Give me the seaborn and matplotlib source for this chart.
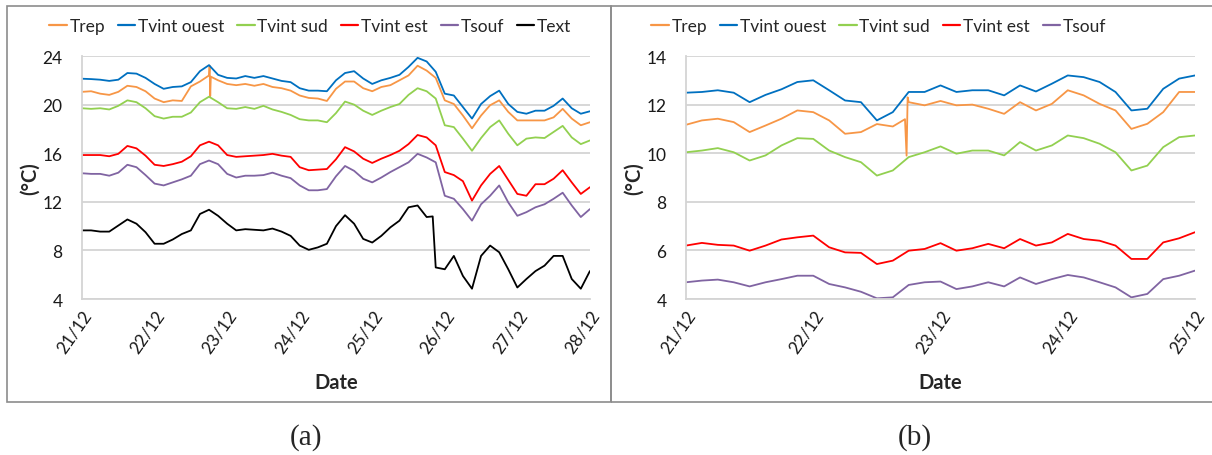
import pandas as pd
import seaborn as sns
import matplotlib.pyplot as plt
from matplotlib.lines import Line2D
from matplotlib.patches import Rectangle
from matplotlib.ticker import MultipleLocator

# ---- panel (a): 21/12 -> 28/12, one reading every 3 h ----
hours_a = list(range(0, 169, 3))
trep_a = [21.05, 21.1, 20.9, 20.8, 21.05, 21.55, 21.45, 21.1, 20.5, 20.2, 20.35, 20.3, 21.5, 21.9, 22.4,
          22.0, 21.7, 21.6, 21.7, 21.55, 21.7, 21.45, 21.35, 21.15, 20.75, 20.55, 20.5, 20.3, 21.3,
          21.9, 21.9, 21.35, 21.1, 21.45, 21.6, 22.0, 22.4, 23.2, 22.8, 22.2, 20.35, 20.05, 19.1,
          18.05, 19.1, 19.95, 20.35, 19.4, 18.7, 18.7, 18.7, 18.7, 18.95, 19.65, 18.85, 18.3, 18.55]
ouest_a = [22.13, 22.1, 22.05, 21.95, 22.05, 22.6, 22.55, 22.2, 21.7, 21.3, 21.45, 21.5, 21.85, 22.75,
           23.25, 22.45, 22.2, 22.15, 22.35, 22.2, 22.35, 22.15, 21.95, 21.85, 21.35, 21.15, 21.15, 21.1,
           22.0, 22.6, 22.75, 22.15, 21.7, 22.0, 22.2, 22.45, 23.1, 23.85, 23.55, 22.7, 20.9, 20.75,
           19.8, 18.85, 20.05, 20.7, 21.15, 20.05, 19.4, 19.25, 19.5, 19.5, 19.9, 20.5, 19.7, 19.25, 19.45]
sud_a = [19.7, 19.65, 19.7, 19.6, 19.9, 20.35, 20.2, 19.7, 19.05, 18.85, 19.0, 19.0, 19.35, 20.2, 20.65,
         20.2, 19.7, 19.65, 19.8, 19.65, 19.9, 19.6, 19.4, 19.15, 18.8, 18.7, 18.7, 18.55, 19.3,
         20.25, 20.0, 19.5, 19.15, 19.5, 19.8, 20.05, 20.8, 21.35, 21.1, 20.5, 18.3, 18.15, 17.2,
         16.2, 17.25, 18.15, 18.7, 17.6, 16.65, 17.2, 17.3, 17.25, 17.75, 18.25, 17.3, 16.75, 17.05]
est_a = [15.85, 15.85, 15.85, 15.75, 15.95, 16.6, 16.4, 15.8, 15.05, 14.95, 15.1, 15.3, 15.75, 16.65,
         16.95, 16.65, 15.85, 15.7, 15.75, 15.8, 15.85, 15.95, 15.8, 15.7, 14.85, 14.6, 14.65, 14.7, 15.5,
         16.5, 16.15, 15.55, 15.2, 15.55, 15.85, 16.2, 16.75, 17.5, 17.3, 16.65, 14.45, 14.2, 13.7,
         12.1, 13.35, 14.3, 14.95, 13.8, 12.65, 12.5, 13.45, 13.45, 13.9, 14.6, 13.6, 12.65, 13.2]
souf_a = [14.35, 14.3, 14.3, 14.15, 14.4, 15.05, 14.85, 14.2, 13.5, 13.35, 13.6, 13.85, 14.15, 15.1,
          15.4, 15.1, 14.3, 14.0, 14.15, 14.15, 14.2, 14.4, 14.15, 13.95, 13.35, 12.95, 12.95, 13.05, 14.1,
          14.95, 14.55, 13.9, 13.6, 14.0, 14.45, 14.85, 15.25, 15.95, 15.65, 15.25, 12.5, 12.25, 11.4,
          10.45, 11.8, 12.5, 13.35, 11.95, 10.85, 11.15, 11.55, 11.8, 12.25, 12.75, 11.7, 10.75, 11.4]
text_a = [9.65, 9.65, 9.55, 9.55, 10.05, 10.55, 10.2, 9.5, 8.55, 8.55, 8.9, 9.35, 9.65, 11.0, 11.35,
          10.85, 10.2, 9.65, 9.75, 9.7, 9.65, 9.8, 9.55, 9.2, 8.4, 8.05, 8.25, 8.55, 10.0,
          10.9, 10.2, 8.95, 8.65, 9.2, 9.9, 10.45, 11.55, 11.7, 10.75, 6.6, 6.45, 7.55, 5.9,
          4.85, 7.55, 8.4, 7.85, 6.45, 4.95, 5.65, 6.3, 6.75, 7.55, 7.55, 5.65, 4.85, 6.3]
# short events between the 3 h readings
trep_a_spike_h = [42.2, 42.4, 42.6]
trep_a_spike = [23.2, 20.7, 22.3]
text_a_drop_h = [116.0]
text_a_drop = [10.8]
days_a = ['21/12', '22/12', '23/12', '24/12', '25/12', '26/12', '27/12', '28/12']

# ---- panel (b): 21/12 -> 25/12, one reading every 3 h ----
hours_b = list(range(0, 97, 3))
trep_b = [11.17, 11.35, 11.42, 11.28, 10.87, 11.14, 11.42, 11.76, 11.69, 11.35, 10.8, 10.87, 11.2,
          11.1, 12.1, 11.97, 12.15, 11.97, 12.0, 11.83, 11.62, 12.1, 11.76, 12.03, 12.59, 12.38, 12.03,
          11.76, 11.0, 11.21, 11.69, 12.52, 12.52]
ouest_b = [12.49, 12.52, 12.59, 12.49, 12.1, 12.4, 12.63, 12.93, 13.0, 12.59, 12.17, 12.1, 11.35,
           11.69, 12.52, 12.52, 12.79, 12.52, 12.59, 12.59, 12.38, 12.79, 12.54, 12.86, 13.2, 13.13,
           12.93, 12.52, 11.76, 11.83, 12.65, 13.07, 13.2]
sud_b = [10.04, 10.11, 10.21, 10.04, 9.7, 9.91, 10.32, 10.62, 10.59, 10.11, 9.84, 9.63, 9.08, 9.29,
         9.84, 10.04, 10.28, 9.98, 10.11, 10.11, 9.91, 10.46, 10.11, 10.32, 10.73, 10.62, 10.39, 10.04,
         9.29, 9.49, 10.25, 10.66, 10.73]
est_b = [6.2, 6.31, 6.23, 6.2, 5.99, 6.2, 6.45, 6.54, 6.61, 6.13, 5.92, 5.9, 5.44, 5.58, 5.99, 6.06,
         6.3, 5.99, 6.09, 6.27, 6.09, 6.47, 6.2, 6.33, 6.68, 6.47, 6.4, 6.2, 5.65, 5.65, 6.33, 6.5, 6.75]
souf_b = [4.69, 4.76, 4.8, 4.69, 4.52, 4.69, 4.82, 4.96, 4.96, 4.62, 4.48, 4.3, 4.03, 4.07, 4.58,
          4.69, 4.72, 4.41, 4.52, 4.69, 4.52, 4.89, 4.62, 4.82, 4.99, 4.89, 4.69, 4.48, 4.07, 4.21,
          4.82, 4.96, 5.17]
trep_b_spike_h = [41.3, 41.6, 41.8]
trep_b_spike = [11.4, 9.9, 12.3]
days_b = ['21/12', '22/12', '23/12', '24/12', '25/12']

colors = {'Trep': '#F79646', 'Tvint ouest': '#0070C0', 'Tvint sud': '#92D050',
          'Tvint est': '#FF0000', 'Tsouf': '#8064A2', 'Text': '#000000'}

FS = 12.5
GRID = '#D4D4D4'


def long_form(hours, series, extras):
    rows = []
    for name, vals in series.items():
        for h, v in zip(hours, vals):
            rows.append((h / 24, v, name))
    for name, (hs, vs) in extras.items():
        for h, v in zip(hs, vs):
            rows.append((h / 24, v, name))
    return pd.DataFrame(rows, columns=['jour', 'temp', 'serie'])


def style_axes(ax, ndays, labels, ymax, ystep, minor):
    ax.set_xlim(0, ndays)
    ax.set_ylim(4, ymax)
    ax.set_xticks(range(ndays + 1))
    ax.set_xticklabels(labels, rotation=55, ha='right', rotation_mode='anchor')
    ax.yaxis.set_major_locator(MultipleLocator(ystep))
    if minor:
        ax.yaxis.set_minor_locator(MultipleLocator(ystep / 2))
    ax.yaxis.grid(True, color=GRID, linewidth=1.3)
    ax.xaxis.grid(False)
    ax.set_axisbelow(True)
    for s in ['top', 'right']:
        ax.spines[s].set_visible(False)
    for s in ['left', 'bottom']:
        ax.spines[s].set_color(GRID)
        ax.spines[s].set_linewidth(1.3)
    ax.tick_params(axis='x', direction='inout', length=9, width=1.2, color=GRID, labelsize=FS,
                   pad=1, labelcolor='#1a1a1a')
    ax.tick_params(axis='y', which='major', direction='out', length=5, width=1.2, color=GRID,
                   labelsize=FS, pad=9, labelcolor='#1a1a1a')
    ax.tick_params(axis='y', which='minor', direction='in', length=5, width=1, color=GRID)
    ax.set_xlabel('Date', fontweight='bold', fontsize=14.5)
    ax.set_ylabel('(°C)', fontweight='bold', fontsize=14.5)
    ax.xaxis.set_label_coords(0.5, -0.3)
    ax.yaxis.set_label_coords(-0.083, 0.5)


sns.set_style('white')
plt.rcParams['font.family'] = ['Lato', 'DejaVu Sans']

fig = plt.figure(figsize=(12.12, 4.56), dpi=100)
ax_a = fig.add_axes([0.0677, 0.342, 0.419, 0.533])
ax_b = fig.add_axes([0.566, 0.342, 0.420, 0.533])

names_a = ['Trep', 'Tvint ouest', 'Tvint sud', 'Tvint est', 'Tsouf', 'Text']
df_a = long_form(hours_a,
                 dict(zip(names_a, [trep_a, ouest_a, sud_a, est_a, souf_a, text_a])),
                 {'Trep': (trep_a_spike_h, trep_a_spike), 'Text': (text_a_drop_h, text_a_drop)})
sns.lineplot(data=df_a, x='jour', y='temp', hue='serie', hue_order=names_a, palette=colors,
             estimator=None, linewidth=1.3, legend=False, ax=ax_a)
style_axes(ax_a, 7, days_a, 24, 4, True)

names_b = names_a[:5]
df_b = long_form(hours_b,
                 dict(zip(names_b, [trep_b, ouest_b, sud_b, est_b, souf_b])),
                 {'Trep': (trep_b_spike_h, trep_b_spike)})
sns.lineplot(data=df_b, x='jour', y='temp', hue='serie', hue_order=names_b, palette=colors,
             estimator=None, linewidth=1.3, legend=False, ax=ax_b)
style_axes(ax_b, 4, days_b, 14, 2, False)

for names, cx in [(names_a, 0.256), (names_b, 0.725)]:
    handles = [Line2D([], [], color=colors[n], linewidth=1.6) for n in names]
    fig.legend(handles, names, loc='center', bbox_to_anchor=(cx, 0.941), ncol=len(names),
               frameon=False, fontsize=FS, handlelength=1.0, handletextpad=0.15,
               columnspacing=0.75)

# panel frames and captions
for x0 in [0.0058, 0.5041]:
    fig.patches.append(Rectangle((x0, 0.116), 0.4983, 0.869, transform=fig.transFigure,
                                 fill=False, edgecolor='#8C8C8C', linewidth=1.2))
fig.text(0.2525, 0.04, '(a)', ha='center', va='center', fontsize=21, family='Liberation Serif')
fig.text(0.755, 0.04, '(b)', ha='center', va='center', fontsize=21, family='Liberation Serif')

fig.savefig('out.png', dpi=100)
